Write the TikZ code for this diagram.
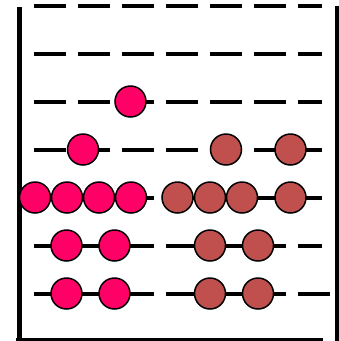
\documentclass[tikz,border=0pt]{standalone}
\definecolor{pinkbead}{RGB}{255,0,102}
\definecolor{redbead}{RGB}{192,80,77}
\begin{document}
\begin{tikzpicture}[x=1pt,y=-1pt,
  rod/.style={line width=4pt, dash pattern=on 32pt off 12pt},
  frame/.style={line width=5pt},
  bead/.style={circle, draw=black, line width=1.5pt, minimum size=31pt, inner sep=0pt},
  pb/.style={bead, fill=pinkbead},
  rb/.style={bead, fill=redbead}]
\useasboundingbox (0,0) rectangle (339,341);
% rods
\foreach \y/\e in {5.5/322, 53.5/322, 101.5/322, 149.5/322, 197.5/322, 245.5/322, 293.5/330}
  \draw[rod] (34,\y) -- (\e,\y);
% frame
\draw[frame] (19,7) -- (19,341);
\draw[line width=4pt] (337,6) -- (337,341);
\draw[line width=2.5pt] (16,339.5) -- (323,339.5);
% row 3
\node[pb] (p31) at (130.5,101.5) {};
% row 4
\node[pb] (p41) at (83,149.5) {};
\node[rb] (r41) at (226,149.5) {};
\node[rb] (r42) at (290.5,149.5) {};
% row 5
\node[pb] (p51) at (35,197.5) {};
\node[pb] (p52) at (67,197.5) {};
\node[pb] (p53) at (99,197.5) {};
\node[pb] (p54) at (131,197.5) {};
\node[rb] (r51) at (177.5,197.5) {};
\node[rb] (r52) at (210,197.5) {};
\node[rb] (r53) at (242,197.5) {};
\node[rb] (r54) at (290.5,197.5) {};
% row 6
\node[pb] (p61) at (66.5,245.5) {};
\node[pb] (p62) at (114.5,245.5) {};
\node[rb] (r61) at (210,245.5) {};
\node[rb] (r62) at (258,245.5) {};
% row 7
\node[pb] (p71) at (66.5,293.5) {};
\node[pb] (p72) at (114.5,293.5) {};
\node[rb] (r71) at (210,293.5) {};
\node[rb] (r72) at (258,293.5) {};
\end{tikzpicture}
\end{document}
